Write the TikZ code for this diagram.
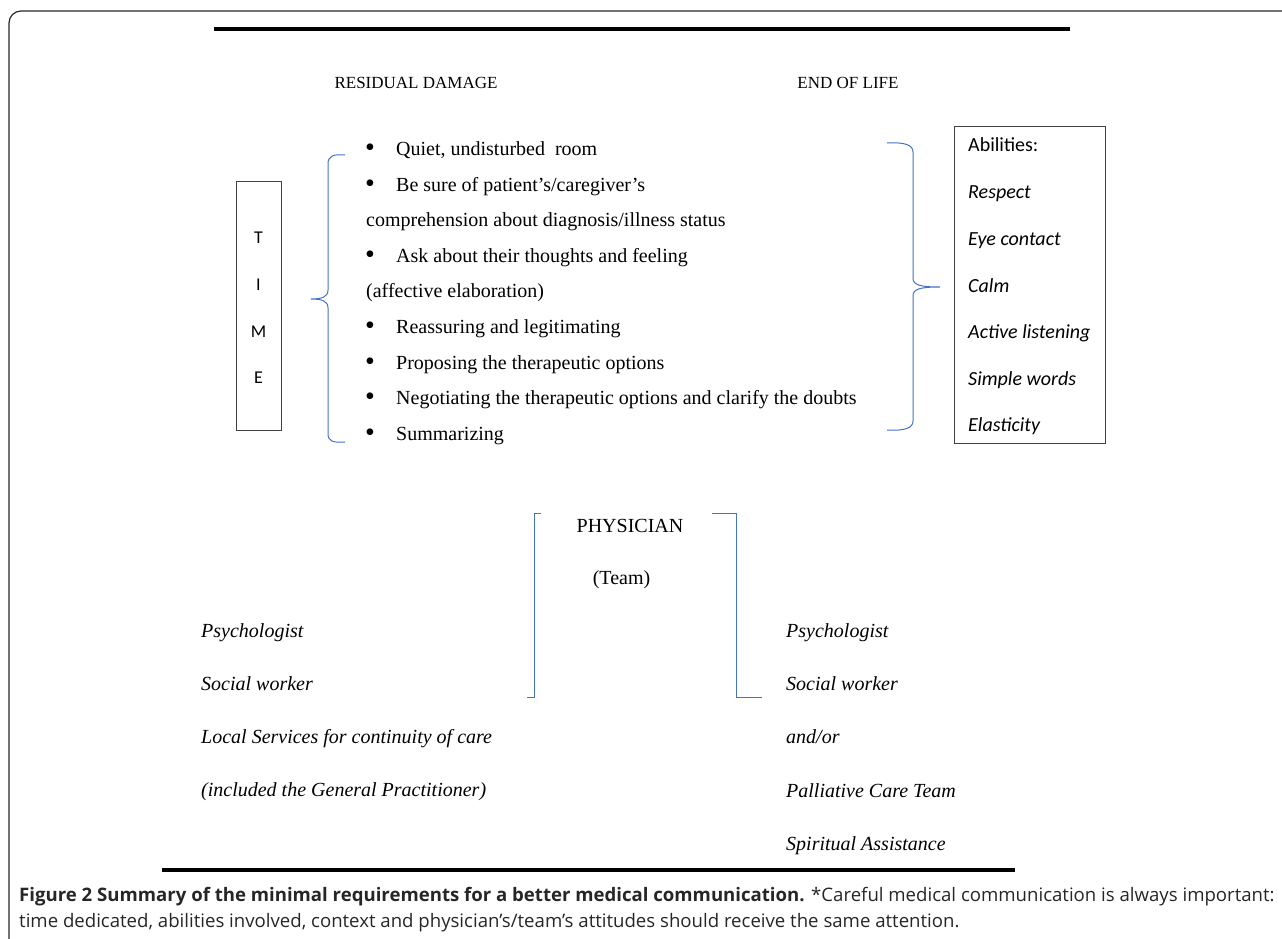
\documentclass[tikz,border=0pt]{standalone}
\usepackage{fontspec}
\usepackage{xcolor}
\usepackage{tikz}
\setmainfont{Liberation Serif}
\newfontfamily\calfont{Carlito}
\newfontfamily\capfont{Open Sans}
\definecolor{braceblue}{HTML}{4472C4}
\begin{document}
\begin{tikzpicture}[x=1pt, y=-1pt,
        every node/.style={inner sep=0pt, font=\fontsize{20}{24}\selectfont},
        txt/.style={anchor=west, text height=14, text depth=4},
        abl/.style={txt, font=\calfont\fontsize{20}{24}\selectfont\itshape},
        brace/.style={braceblue, line width=1pt},
        rule/.style={line width=3.2pt}]
        \useasboundingbox (0,0) rectangle (1282,939);
        % frame and rules
        \draw[line width=1.2pt, black!85, rounded corners=12pt] (9,939) -- (9,11) -- (1283,11);
        \draw[rule] (214,29) -- (1070,29);
        \draw[rule] (162,870) -- (1015,870);
        % headings
        \node[font=\fontsize{17}{20}\selectfont] (resid) at (416,83) {RESIDUAL DAMAGE};
        \node[font=\fontsize{17}{20}\selectfont] (endlife) at (848,83) {END OF LIFE};
        % time box
        \node[draw, black!75, line width=0.8pt, minimum width=45, minimum height=249] (timebox) at (258.5,305.5) {};
        \foreach \yy/\ch [count=\i] in {238/T, 285/I, 332/M, 378/E}
            \node[font=\calfont\fontsize{18}{22}\selectfont] (t\i) at (258.5,\yy) {\ch};
        % left brace
        \draw[brace] (345,155) .. controls (333,154) and (328,156) .. (328,164) -- (328,290)
            .. controls (328,297) and (322,299) .. (311,299) .. controls (322,299) and (328,301) .. (328,308)
            -- (328,434) .. controls (328,441) and (333,443) .. (345,442);
        % steps
        \foreach \yy/\txt [count=\i] in {150/{Quiet, undisturbed\ \ room},
                186/{Be sure of patient’s/caregiver’s},
                257/{Ask about their thoughts and feeling},
                328/{Reassuring and legitimating},
                364/{Proposing the therapeutic options},
                399/{Negotiating the therapeutic options and clarify the doubts},
                435/{Summarizing}} {
            \node[font=\fontsize{28}{28}\selectfont] (dot\i) at (370,\yy) {\textbullet};
            \node[txt] (item\i) at (396,\yy) {\txt};
        }
        \node[txt] (item2b) at (366,221) {comprehension about diagnosis/illness status};
        \node[txt] (item3b) at (366,292) {(affective elaboration)};
        % right brace
        \draw[brace] (887,143) .. controls (905,142) and (913,145) .. (913,152) -- (913,278)
            .. controls (913,285) and (920,287) .. (940,287) .. controls (920,287) and (913,289) .. (913,296)
            -- (913,421) .. controls (913,428) and (905,431) .. (887,430);
        % abilities
        \node[draw, black!75, line width=0.8pt, anchor=north west, minimum width=151, minimum height=317] (abil) at (954,126) {};
        \node[abl, font=\calfont\fontsize{20}{24}\selectfont] (ab0) at (968,146) {Abilities:};
        \foreach \yy/\txt [count=\i] in {193/Respect, 240/Eye contact, 287/Calm, 333/Active listening, 380/Simple words, 426/Elasticity}
            \node[abl] (ab\i) at (968,\yy) {\txt};
        % physician
        \node (phys) at (630,526) {PHYSICIAN};
        \node (team) at (621.5,580) {(Team)};
        \draw[brace] (541,513) -- (534,513) -- (534,697) -- (527,697);
        \draw[brace] (712,513) -- (736,513) -- (736,697) -- (762,697);
        % support
        \foreach \yy/\txt [count=\i] in {632/Psychologist, 685/Social worker, 738/Local Services for continuity of care, 791/(included the General Practitioner)}
            \node[txt, font=\fontsize{20}{24}\selectfont\itshape] (ls\i) at (201,\yy) {\txt};
        \foreach \yy/\txt [count=\i] in {632/Psychologist, 685/Social worker, 738/{and/or}, 792/Palliative Care Team, 845/Spiritual Assistance}
            \node[txt, font=\fontsize{20}{24}\selectfont\itshape] (rs\i) at (786,\yy) {\txt};
        % caption
        \node[anchor=west, black!85, font=\capfont\fontsize{18.6}{22}\selectfont] (cap1) at (19,897)
            {\textbf{Figure 2 Summary of the minimal requirements for a better medical communication.} *Careful medical communication is always important:};
        \node[anchor=west, black!85, font=\capfont\fontsize{18.6}{22}\selectfont] (cap2) at (19,923)
            {time dedicated, abilities involved, context and physician’s/team’s attitudes should receive the same attention.};
    \end{tikzpicture}
\end{document}
